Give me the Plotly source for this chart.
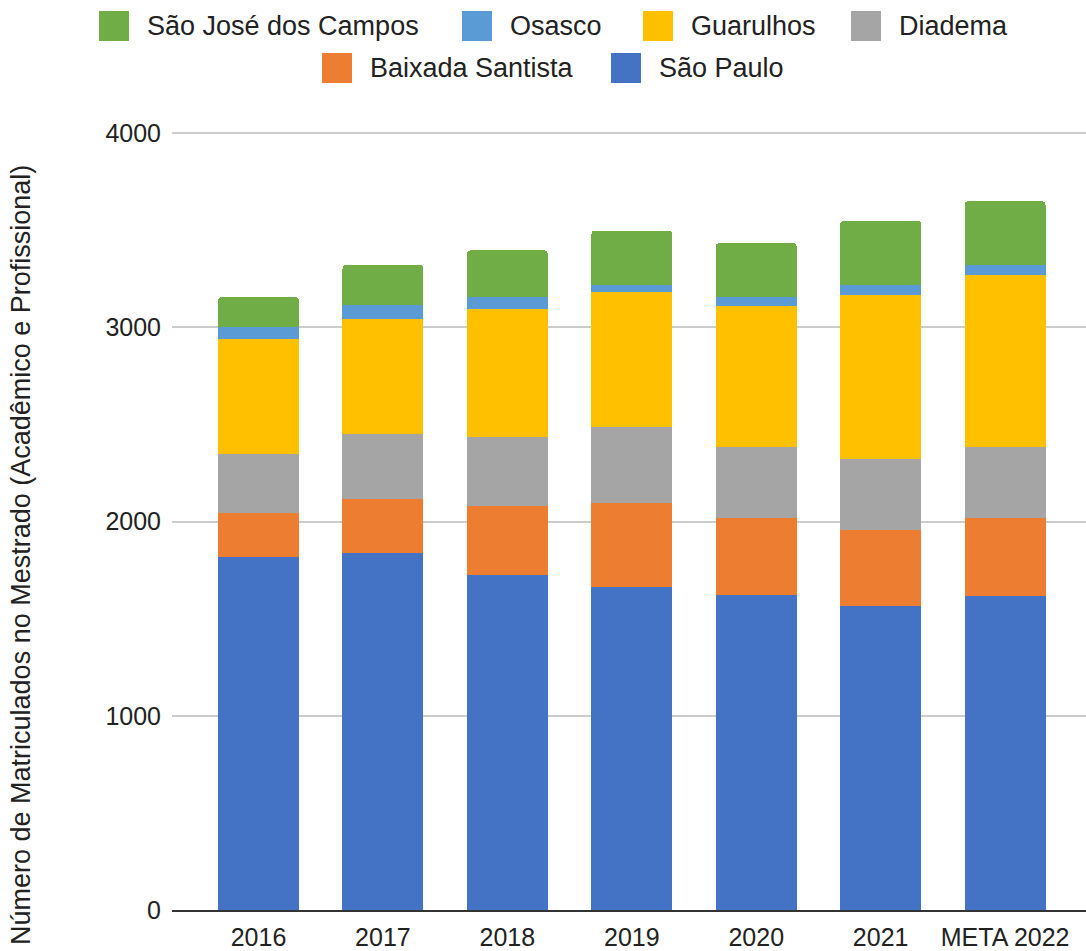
import plotly.graph_objects as go

categories = ["2016", "2017", "2018", "2019", "2020", "2021", "META 2022"]
sao_paulo = [1815, 1840, 1727, 1664, 1624, 1563, 1614]
baixada_santista = [228, 278, 355, 430, 393, 392, 403]
diadema = [302, 330, 352, 391, 367, 368, 367]
guarulhos = [597, 595, 659, 697, 723, 845, 887]
osasco = [61, 74, 63, 38, 49, 50, 50]
sao_jose = [152, 204, 240, 278, 278, 330, 328]

series_names = ["São Paulo", "Baixada Santista", "Diadema", "Guarulhos", "Osasco", "São José dos Campos"]
series_values = [sao_paulo, baixada_santista, diadema, guarulhos, osasco, sao_jose]
series_colors = ["#4472C4", "#ED7D31", "#A5A5A5", "#FFC000", "#5B9BD5", "#70AD47"]

y_ticks = [0, 1000, 2000, 3000, 4000]
y_title = "Número de Matriculados no Mestrado (Acadêmico e Profissional)"

W, H = 1086, 951
ML, MR, MT, MB = 172, 0, 131, 41
PW, PH = W - ML - MR, H - MT - MB
FONT = "Arial, Liberation Sans, sans-serif"
Y_MAX = 4000 * PH / 777.0  # a little headroom so the 4000 gridline is drawn

def px_x(p):
    return (p - ML) / PW

def px_y(p):
    return (H - MB - p) / PH

fig = go.Figure()
for name, vals, col in zip(series_names, series_values, series_colors):
    fig.add_trace(go.Bar(x=categories, y=vals, name=name, marker=dict(color=col, line=dict(width=0)),
                         width=0.65, showlegend=False))

# manual legend (order and positions as in the reference)
legend_items = [
    ("São José dos Campos", 99, 26), ("Osasco", 462, 26), ("Guarulhos", 643, 26), ("Diadema", 851, 26),
    ("Baixada Santista", 322, 68), ("São Paulo", 611, 68),
]
color_of = dict(zip(series_names, series_colors))
shapes = []
annotations = []
SQ = 30
for name, sx, cy in legend_items:
    shapes.append(dict(type="rect", xref="paper", yref="paper",
                       x0=px_x(sx), x1=px_x(sx + SQ), y0=px_y(cy + SQ / 2), y1=px_y(cy - SQ / 2),
                       fillcolor=color_of[name], line=dict(width=0), layer="above"))
    annotations.append(dict(text=name, xref="paper", yref="paper", x=px_x(sx + SQ + 16), y=px_y(cy),
                            xanchor="left", yanchor="middle", showarrow=False,
                            font=dict(family=FONT, size=27, color="#222222")))

annotations.append(dict(text=y_title, textangle=-90, xref="paper", yref="paper",
                        x=px_x(21), y=px_y(555), xanchor="center", yanchor="middle", showarrow=False,
                        font=dict(family=FONT, size=27, color="#222222")))

fig.update_layout(
    width=W, height=H,
    margin=dict(l=ML, r=MR, t=MT, b=MB, pad=0, autoexpand=False),
    barmode="stack",
    barcornerradius=4,
    plot_bgcolor="white", paper_bgcolor="white",
    font=dict(family=FONT, size=25, color="#222222"),
    shapes=shapes, annotations=annotations,
    xaxis=dict(range=[-0.695, 6.65], showgrid=False, showline=True, linecolor="#333333", linewidth=2,
               ticks="", ticklabelstandoff=4, tickfont=dict(size=25, color="#222222"), zeroline=False,
               automargin=False, fixedrange=True),
    yaxis=dict(range=[0, Y_MAX], tickvals=y_ticks, showgrid=True, gridcolor="#CCCCCC", gridwidth=2,
               zeroline=False, showline=False, ticks="", ticklabelstandoff=10,
               tickfont=dict(size=25, color="#222222"), automargin=False, fixedrange=True),
    bargap=0.35,
)

fig.write_html("out.html", config={"displayModeBar": False},
               post_script="document.body.style.margin='0';document.body.style.overflow='hidden';")
